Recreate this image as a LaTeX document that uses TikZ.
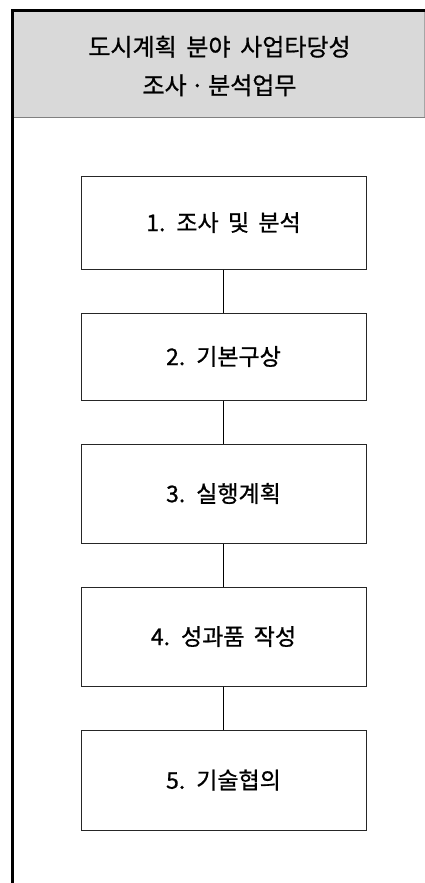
\documentclass[tikz,border=0pt]{standalone}
\usepackage{fontspec}
\newfontfamily\kr[WordSpace=1.8,FakeBold=0.8]{Noto Sans CJK KR}
\begin{document}
\begin{tikzpicture}[x=1pt,y=-1pt,
  stepbox/.style={draw=black!85,line width=1pt,fill=white,minimum width=285pt,inner sep=0pt,font=\kr\fontsize{23}{27}\selectfont},
  link/.style={draw=black,line width=0.9pt}]
\useasboundingbox (0,0) rectangle (425,883);
% header
\fill[black!15] (14,12) rectangle (425,117);
\draw[black!50,line width=1.5pt] (14,117.5) -- (425,117.5);
\draw[black!35,line width=1pt] (424,12) -- (424,117);
\node[align=center,font=\kr\fontsize{24}{38.5}\selectfont] (head) at (219.5,66) {도시계획 분야 사업타당성\\조사\,·\,분석업무};
% frame
\draw[black,line width=3pt] (12.5,883) -- (12.5,10.5) -- (425,10.5);
% boxes
\node[stepbox,minimum height=93pt] (b1) at (223.5,222.5) {1. 조사 및 분석};
\node[stepbox,minimum height=87pt] (b2) at (223.5,356.5) {2. 기본구상};
\node[stepbox,minimum height=99pt] (b3) at (223.5,493.5) {3. 실행계획};
\node[stepbox,minimum height=99pt] (b4) at (223.5,636.5) {4. 성과품 작성};
\node[stepbox,minimum height=100pt] (b5) at (223.5,780) {5. 기술협의};
\draw[link] (b1.south) -- (b2.north);
\draw[link] (b2.south) -- (b3.north);
\draw[link] (b3.south) -- (b4.north);
\draw[link] (b4.south) -- (b5.north);
\end{tikzpicture}
\end{document}
